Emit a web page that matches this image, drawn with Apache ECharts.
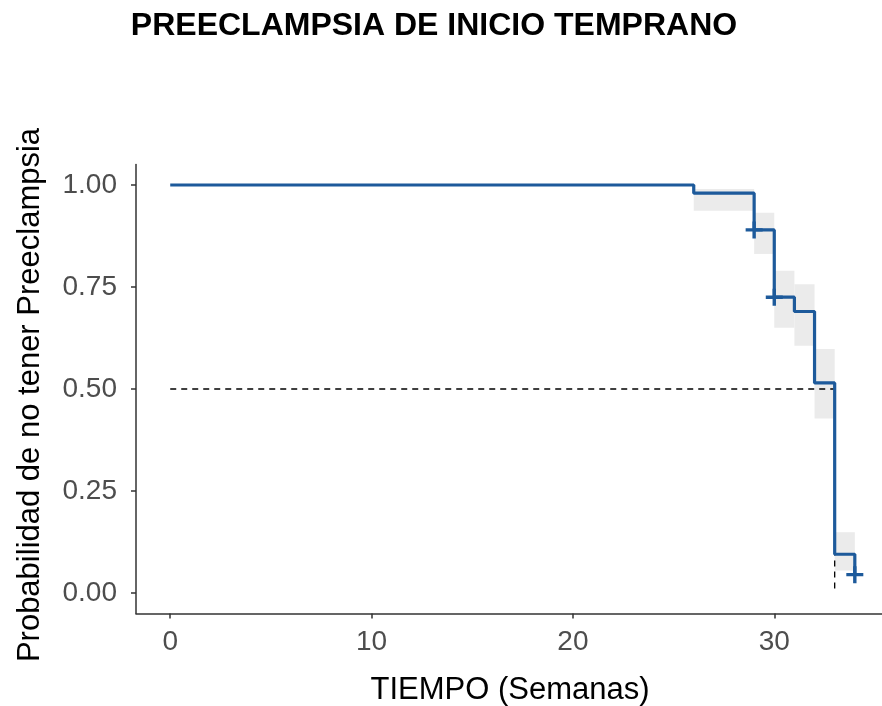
<!DOCTYPE html>
<html>
<head>
<meta charset="utf-8">
<script src="https://cdn.jsdelivr.net/npm/echarts@6/dist/echarts.min.js"></script>
<style>
  html, body { margin: 0; padding: 0; background: #fff; }
  #chart { width: 882px; height: 706px; }
</style>
</head>
<body>
<div id="chart"></div>
<script>
// Kaplan-Meier curve: time (weeks) and survival at each step
const stepTimes = [0, 26, 29, 30, 31, 32, 33, 34];
const survival  = [1.00, 0.980, 0.890, 0.725, 0.690, 0.515, 0.095, 0.045];

// Confidence band per interval
const ciStart = [26, 29, 30, 31, 32, 33];
const ciEnd   = [29, 30, 31, 32, 33, 34];
const ciLower = [0.937, 0.831, 0.650, 0.606, 0.428, 0.055];
const ciUpper = [0.990, 0.932, 0.790, 0.757, 0.598, 0.149];

// Censored observations
const censorTimes = [29, 30, 34];
const censorSurv  = [0.890, 0.725, 0.045];

// Median survival reference
const medianTime = 33;
const medianLevel = 0.5;

const xTicks = [0, 10, 20, 30];
const yTicks = [0, 0.25, 0.5, 0.75, 1];

const titleText = 'PREECLAMPSIA DE INICIO TEMPRANO';
const xTitle = 'TIEMPO (Semanas)';
const yTitle = 'Probabilidad de no tener Preeclampsia';

const lineColor = '#1d5a9b';
const font = 'Liberation Sans, Arial, sans-serif';

const curveData = stepTimes.map((t, i) => [t, survival[i]]);
const bandData = ciStart.map((s, i) => [s, ciEnd[i], ciLower[i], ciUpper[i]]);
const censorData = censorTimes.map((t, i) => [t, censorSurv[i]]);
const medianData = [[0, medianLevel], [medianTime, medianLevel], [medianTime, 0]];

const chart = echarts.init(document.getElementById('chart'), null, { renderer: 'canvas' });

const axisCommon = {
  axisLine: { show: true, onZero: false, lineStyle: { color: '#333333', width: 1.5 } },
  axisTick: { show: true, length: 5, lineStyle: { color: '#333333', width: 1.5 } },
  splitLine: { show: false },
  axisLabel: { color: '#4d4d4d', fontSize: 28, fontFamily: font }
};

chart.setOption({
  animation: false,
  backgroundColor: '#ffffff',
  grid: { left: 136, top: 164.6, width: 746, height: 448.8, containLabel: false },
  xAxis: {
    type: 'value', min: -1.7, max: 35.35,
    ...axisCommon,
    axisTick: { ...axisCommon.axisTick, customValues: xTicks },
    axisLabel: { ...axisCommon.axisLabel, customValues: xTicks, margin: 15 }
  },
  yAxis: {
    type: 'value', min: -0.05, max: 1.05,
    ...axisCommon,
    axisTick: { ...axisCommon.axisTick, customValues: yTicks },
    axisLabel: { ...axisCommon.axisLabel, customValues: yTicks, margin: 19,
      formatter: v => v.toFixed(2) }
  },
  graphic: [
    { type: 'text', x: 434, y: 26,
      style: { text: titleText, font: 'bold 32px ' + font, fill: '#000', align: 'center', verticalAlign: 'middle' } },
    { type: 'text', x: 510, y: 690,
      style: { text: xTitle, font: '31px ' + font, fill: '#000', align: 'center', verticalAlign: 'middle' } },
    { type: 'text', x: 30, y: 395, rotation: Math.PI / 2,
      style: { text: yTitle, font: '31px ' + font, fill: '#000', align: 'center', verticalAlign: 'middle' } }
  ],
  series: [
    {
      type: 'custom',
      z: 1,
      data: bandData,
      renderItem: (params, api) => {
        const p0 = api.coord([api.value(0), api.value(3)]);
        const p1 = api.coord([api.value(1), api.value(2)]);
        return {
          type: 'rect',
          shape: { x: p0[0], y: p0[1], width: p1[0] - p0[0], height: p1[1] - p0[1] },
          style: { fill: '#ebebeb' }
        };
      }
    },
    {
      type: 'line', z: 2,
      data: medianData,
      symbol: 'none',
      lineStyle: { color: '#000', width: 1.3, type: [6, 5] }
    },
    {
      type: 'line', z: 3,
      data: curveData,
      step: 'end',
      symbol: 'none',
      lineStyle: { color: lineColor, width: 3.2 }
    },
    {
      type: 'scatter', z: 4,
      data: censorData,
      symbol: 'path://M0,6.4H16V9.6H0Z M6.4,0H9.6V16H6.4Z',
      symbolSize: 17,
      itemStyle: { color: lineColor, opacity: 1 }
    }
  ]
});
</script>
</body>
</html>
